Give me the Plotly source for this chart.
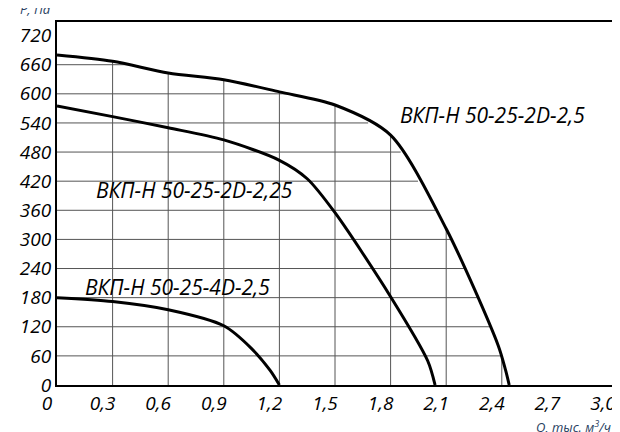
import numpy as np
import plotly.graph_objects as go

# ВКП-Н 50-25-2D-2,5
q_a = [0, 0.3, 0.6, 0.9, 1.2, 1.5, 1.8, 2.1, 2.38, 2.42, 2.44]
p_a = [680, 667, 643, 629, 604, 577, 515, 322, 82, 31, 0]
# ВКП-Н 50-25-2D-2,25
q_b = [0, 0.3, 0.6, 0.9, 1.2, 1.35, 1.5, 1.8, 2.0, 2.04]
p_b = [575, 553, 530, 505, 463, 425, 355, 182, 50, 0]
# ВКП-Н 50-25-4D-2,5
q_c = [0, 0.3, 0.6, 0.9, 1.05, 1.15, 1.2]
p_c = [180, 172, 155, 122, 75, 30, 0]

x_ticks = [0, 0.3, 0.6, 0.9, 1.2, 1.5, 1.8, 2.1, 2.4, 2.7, 3.0]
y_ticks = list(range(0, 721, 60))

fig = go.Figure()

# grid only under the outer curve
gx, gy = [], []
for x in x_ticks[1:]:
  if x < q_a[-1]:
    gx += [x, x, None]
    gy += [0, float(np.interp(x, q_a, p_a)), None]
for y in y_ticks[1:]:
  if y < p_a[0]:
    gx += [0, float(np.interp(-y, [-v for v in p_a], q_a)), None]
    gy += [y, y, None]
fig.add_trace(go.Scatter(x=gx, y=gy, mode='lines', line=dict(color='#555', width=1), hoverinfo='skip'))

for qs, ps in [(q_a, p_a), (q_b, p_b), (q_c, p_c)]:
  fig.add_trace(go.Scatter(x=qs, y=ps, mode='lines', line=dict(color='black', width=3, shape='spline', smoothing=0.8)))

font = dict(family='Open Sans', size=21, color='black', style='italic')
for text, x, y in [('ВКП-Н 50-25-2D-2,5', 2.35, 557),
                   ('ВКП-Н 50-25-2D-2,25', 0.74, 402),
                   ('ВКП-Н 50-25-4D-2,5', 0.65, 202)]:
  fig.add_annotation(x=x, y=y, text=text, showarrow=False, font=font)

fig.add_annotation(xref='paper', yref='paper', x=0, y=1, xanchor='right', yanchor='bottom', xshift=-4, yshift=2,
                   text='P, Па', showarrow=False, font=dict(family='Open Sans', size=13, style='italic'))
fig.add_annotation(xref='paper', yref='paper', x=1, y=0, xanchor='right', yanchor='top', yshift=-30,
                   text='Q, тыс. м<sup>3</sup>/ч', showarrow=False, font=dict(family='Open Sans', size=13, style='italic'))

tick_font = dict(family='Open Sans', size=19, color='black', style='italic')
fig.update_xaxes(range=[0, 3.0], tickvals=x_ticks, ticktext=[('%.1f' % v).replace('.', ',') if v else '0' for v in x_ticks],
                 showgrid=False, zeroline=False, showline=True, linecolor='black', linewidth=2, mirror=True,
                 tickfont=tick_font, ticks='', ticklabelshift=-10)
fig.update_yaxes(range=[0, 748], tickvals=y_ticks, showgrid=False, zeroline=False, showline=True,
                 linecolor='black', linewidth=2, mirror=True, tickfont=tick_font, ticks='')
fig.update_layout(width=620, height=432, showlegend=False, plot_bgcolor='white', paper_bgcolor='white',
                  margin=dict(l=44, r=14, t=14, b=55))
fig.write_html('out.html')
